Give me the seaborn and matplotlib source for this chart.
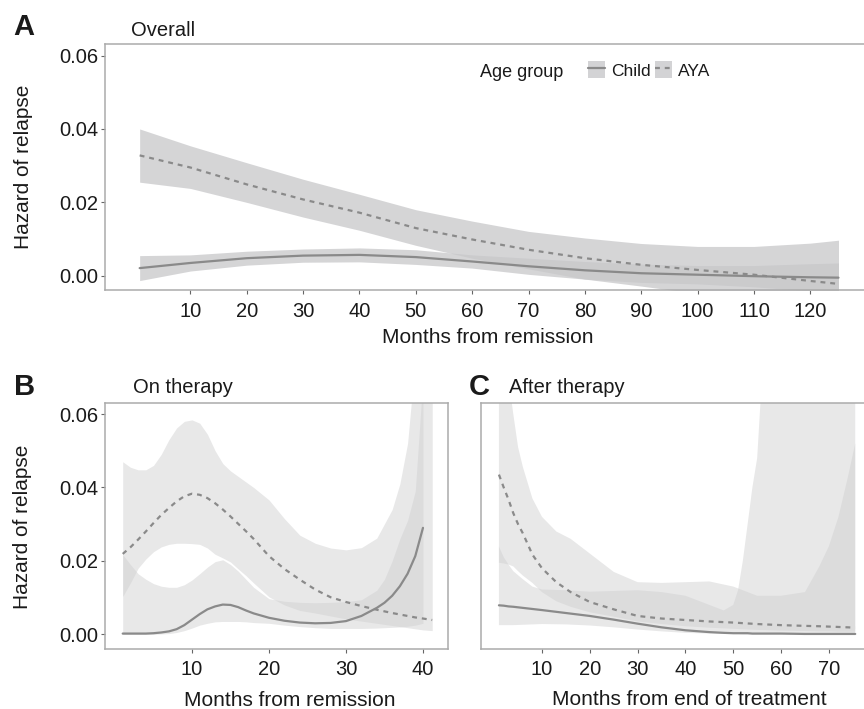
import numpy as np
import pandas as pd
import matplotlib
matplotlib.use("Agg")
import matplotlib.pyplot as plt
import seaborn as sns
from matplotlib.patches import Patch
from matplotlib.lines import Line2D
from matplotlib.legend_handler import HandlerTuple

# ---------------- data ----------------
# Panel A: Overall
a_month = [1, 10, 20, 30, 40, 50, 60, 70, 80, 90, 100, 110, 120, 125]
a_child_fit = [0.0021, 0.0035, 0.0048, 0.0055, 0.0057, 0.0051, 0.0039, 0.0026, 0.0015, 0.0007, 0.0003, -0.0001, -0.0004, -0.0005]
a_child_lo = [-0.0013, 0.0013, 0.0029, 0.0037, 0.0038, 0.0031, 0.0021, 0.0004, -0.0009, -0.0018, -0.0022, -0.0030, -0.0041, -0.0045]
a_child_hi = [0.0055, 0.0057, 0.0067, 0.0073, 0.0076, 0.0071, 0.0057, 0.0048, 0.0039, 0.0032, 0.0028, 0.0028, 0.0033, 0.0035]
a_aya_fit = [0.0328, 0.0295, 0.0249, 0.0208, 0.0172, 0.0130, 0.0099, 0.0071, 0.0048, 0.0030, 0.0016, 0.0003, -0.0014, -0.0022]
a_aya_lo = [0.0255, 0.0238, 0.0200, 0.0160, 0.0124, 0.0083, 0.0048, 0.0019, -0.0009, -0.0028, -0.0048, -0.0074, -0.0117, -0.0141]
a_aya_hi = [0.0400, 0.0354, 0.0308, 0.0263, 0.0222, 0.0180, 0.0149, 0.0121, 0.0103, 0.0088, 0.0080, 0.0080, 0.0089, 0.0097]

# Panel B: On therapy
b_aya_month = [1, 2, 3, 4, 5, 6, 7, 8, 9, 10, 11, 12, 13, 14, 15, 16, 17, 18, 20, 22, 24, 26, 28, 30, 32, 34, 36, 37, 38, 39, 40, 41.2]
b_aya_fit = [0.0219, 0.0237, 0.0258, 0.0280, 0.0303, 0.0325, 0.0344, 0.0362, 0.0376, 0.0383, 0.0380, 0.0371, 0.0357, 0.0340, 0.0321, 0.0301, 0.0281, 0.0260, 0.0213, 0.0178, 0.0149, 0.0122, 0.0101, 0.0088, 0.0077, 0.0067, 0.0058, 0.0054, 0.0050, 0.0046, 0.0043, 0.0039]
b_aya_lo = [0.0103, 0.0140, 0.0180, 0.0205, 0.0225, 0.0238, 0.0245, 0.0248, 0.0248, 0.0247, 0.0245, 0.0235, 0.0218, 0.0208, 0.0197, 0.0178, 0.0160, 0.0140, 0.0102, 0.0080, 0.0065, 0.0058, 0.0050, 0.0042, 0.0036, 0.0030, 0.0024, 0.0021, 0.0018, 0.0015, 0.0012, 0.0010]
b_aya_hi = [0.0470, 0.0455, 0.0448, 0.0448, 0.0460, 0.0490, 0.0530, 0.0562, 0.0580, 0.0584, 0.0575, 0.0545, 0.0500, 0.0465, 0.0445, 0.0430, 0.0415, 0.0400, 0.0366, 0.0315, 0.0270, 0.0248, 0.0235, 0.0230, 0.0236, 0.0262, 0.0340, 0.0410, 0.0520, 0.0750, 0.1200, 0.1500]

b_child_month = [1, 2, 3, 4, 5, 6, 7, 8, 9, 10, 11, 12, 13, 14, 15, 16, 17, 18, 20, 22, 24, 26, 28, 30, 32, 34, 35, 36, 37, 38, 39, 40]
b_child_fit = [0.0002, 0.0002, 0.0002, 0.0002, 0.0003, 0.0005, 0.0008, 0.0014, 0.0025, 0.0040, 0.0055, 0.0068, 0.0076, 0.0081, 0.0080, 0.0074, 0.0065, 0.0057, 0.0045, 0.0037, 0.0032, 0.0030, 0.0031, 0.0036, 0.0050, 0.0072, 0.0086, 0.0105, 0.0131, 0.0165, 0.0213, 0.0290]
b_child_lo = [0.0000, 0.0000, 0.0000, 0.0000, 0.0000, 0.0001, 0.0002, 0.0005, 0.0010, 0.0017, 0.0025, 0.0030, 0.0034, 0.0035, 0.0035, 0.0035, 0.0034, 0.0032, 0.0030, 0.0025, 0.0021, 0.0018, 0.0016, 0.0016, 0.0016, 0.0017, 0.0018, 0.0019, 0.0020, 0.0022, 0.0025, 0.0030]
b_child_hi = [0.0217, 0.0190, 0.0165, 0.0150, 0.0138, 0.0131, 0.0128, 0.0128, 0.0135, 0.0148, 0.0165, 0.0183, 0.0198, 0.0203, 0.0190, 0.0172, 0.0150, 0.0128, 0.0097, 0.0090, 0.0087, 0.0086, 0.0087, 0.0089, 0.0094, 0.0120, 0.0150, 0.0200, 0.0260, 0.0310, 0.0390, 0.0700]

# Panel C: After therapy
c_aya_month = [1, 2, 3, 4, 5, 6, 8, 10, 13, 16, 20, 25, 30, 35, 40, 45, 50, 55, 60, 65, 68, 70, 72, 74, 75.5]
c_aya_fit = [0.0435, 0.0400, 0.0367, 0.0330, 0.0300, 0.0275, 0.0217, 0.0180, 0.0142, 0.0115, 0.0088, 0.0068, 0.0050, 0.0043, 0.0039, 0.0035, 0.0032, 0.0028, 0.0025, 0.0023, 0.0022, 0.0021, 0.0020, 0.0019, 0.0018]
c_aya_lo = [0.0195, 0.0193, 0.0190, 0.0185, 0.0172, 0.0160, 0.0140, 0.0115, 0.0090, 0.0075, 0.0060, 0.0048, 0.0035, 0.0028, 0.0022, 0.0018, 0.0015, 0.0012, 0.0010, 0.0009, 0.0008, 0.0008, 0.0007, 0.0007, 0.0007]
c_aya_hi = [0.2000, 0.0900, 0.0700, 0.0600, 0.0510, 0.0456, 0.0370, 0.0320, 0.0280, 0.0260, 0.0220, 0.0170, 0.0142, 0.0140, 0.0142, 0.0144, 0.0130, 0.0105, 0.0105, 0.0115, 0.0185, 0.0240, 0.0320, 0.0430, 0.0520]

c_child_month = [1, 2, 3, 4, 6, 8, 10, 15, 20, 25, 30, 35, 40, 45, 48, 50, 51, 52, 53, 54, 55, 56, 58, 60, 65, 70, 75.5]
c_child_fit = [0.0079, 0.0078, 0.0076, 0.0075, 0.0072, 0.0069, 0.0066, 0.0058, 0.0050, 0.0040, 0.0029, 0.0019, 0.0011, 0.0006, 0.0004, 0.0003, 0.0003, 0.0003, 0.0003, 0.0002, 0.0002, 0.0002, 0.0002, 0.0002, 0.0001, 0.0001, 0.0001]
c_child_lo = [0.0025, 0.0025, 0.0025, 0.0025, 0.0026, 0.0027, 0.0028, 0.0027, 0.0024, 0.0019, 0.0013, 0.0008, 0.0004, 0.0002, 0.0001, 0.0001, 0.0001, 0.0000, 0.0000, 0.0000, 0.0000, 0.0000, 0.0000, 0.0000, 0.0000, 0.0000, 0.0000]
c_child_hi = [0.0239, 0.0210, 0.0190, 0.0172, 0.0150, 0.0130, 0.0122, 0.0120, 0.0116, 0.0118, 0.0120, 0.0115, 0.0105, 0.0080, 0.0065, 0.0080, 0.0120, 0.0200, 0.0300, 0.0400, 0.0480, 0.0700, 0.1200, 0.2000, 0.3000, 0.4000, 0.5000]

groups = ["Child", "AYA"]
y_ticks = [0.00, 0.02, 0.04, 0.06]
y_ticklabels = ["0.00", "0.02", "0.04", "0.06"]
a_xticks = [10, 20, 30, 40, 50, 60, 70, 80, 90, 100, 110, 120]
b_xticks = [10, 20, 30, 40]
c_xticks = [10, 20, 30, 40, 50, 60, 70]


def frame(child, aya):
    parts = []
    for g, (m, f, lo, hi) in zip(groups, [child, aya]):
        parts.append(pd.DataFrame({"month": m, "fit": f, "lo": lo, "hi": hi, "group": g}))
    return pd.concat(parts, ignore_index=True)


df_a = frame((a_month, a_child_fit, a_child_lo, a_child_hi), (a_month, a_aya_fit, a_aya_lo, a_aya_hi))
df_b = frame((b_child_month, b_child_fit, b_child_lo, b_child_hi), (b_aya_month, b_aya_fit, b_aya_lo, b_aya_hi))
df_c = frame((c_child_month, c_child_fit, c_child_lo, c_child_hi), (c_aya_month, c_aya_fit, c_aya_lo, c_aya_hi))

# ---------------- style ----------------
sns.set_theme(style="white")
plt.rcParams["font.family"] = ["Liberation Sans", "DejaVu Sans"]

LINE = "#8a8a8a"
SPINE = "#ababab"
TXT = "#1a1a1a"
DASH = (2.2, 2.2)

W, H = 864, 709
fig = plt.figure(figsize=(W / 100, H / 100), dpi=100)


def px_axes(left, top, right, bottom):
    return fig.add_axes([left / W, 1 - bottom / H, (right - left) / W, (bottom - top) / H])


def draw(ax, df, fill, alpha, xlim, xticks, show_y=True):
    for g in groups:
        sub = df[df["group"] == g]
        ax.fill_between(sub["month"], sub["lo"], sub["hi"], color=fill, alpha=alpha, lw=0, zorder=1)
    sns.lineplot(data=df, x="month", y="fit", style="group", style_order=groups,
                 dashes={"Child": "", "AYA": DASH}, color=LINE, lw=1.6,
                 estimator=None, sort=True, legend=False, ax=ax, zorder=3)
    ax.set_xlim(*xlim)
    ax.set_ylim(-0.004, 0.063)
    ax.set_xticks(xticks)
    ax.set_yticks(y_ticks)
    ax.set_yticklabels(y_ticklabels)
    ax.set_xlabel("")
    ax.set_ylabel("")
    for s in ax.spines.values():
        s.set_color(SPINE)
        s.set_linewidth(1.1)
        s.set_visible(True)
    ax.tick_params(axis="x", bottom=True, length=3, width=0.8, color="#666666", pad=5,
                   labelsize=14.5, labelcolor=TXT)
    ax.tick_params(axis="y", left=show_y, labelleft=show_y, length=3, width=0.8, color="#666666",
                   pad=2, labelsize=14.5, labelcolor=TXT)
    ax.set_facecolor("white")


ax_a = px_axes(105, 44.5, 874, 290.5)
draw(ax_a, df_a, "#c8c8ca", 0.76, (-5.15, 131.3), a_xticks)

ax_b = px_axes(105, 403, 448, 649)
draw(ax_b, df_b, "#cfcfd0", 0.48, (-1.3, 43.25), b_xticks)

ax_c = px_axes(481, 403, 871, 649)
draw(ax_c, df_c, "#cfcfd0", 0.48, (-2.75, 78.8), c_xticks, show_y=False)

# ---------------- texts ----------------
def ftext(x, y, s, **kw):
    kw.setdefault("color", TXT)
    fig.text(x / W, 1 - y / H, s, **kw)

ftext(13, 35, "A", fontsize=21, fontweight="bold", va="baseline")
ftext(131, 36, "Overall", fontsize=14.5, va="baseline")
ftext(14, 395, "B", fontsize=21, fontweight="bold", va="baseline")
ftext(133, 393, "On therapy", fontsize=14.5, va="baseline")
ftext(469, 395, "C", fontsize=21, fontweight="bold", va="baseline")
ftext(509, 393, "After therapy", fontsize=14.5, va="baseline")

ftext(23.5, 167, "Hazard of relapse", fontsize=15, rotation=90, ha="center", va="center")
ftext(23, 527, "Hazard of relapse", fontsize=15, rotation=90, ha="center", va="center")
ftext(488, 343, "Months from remission", fontsize=15, ha="center", va="baseline")
ftext(290, 706, "Months from remission", fontsize=15, ha="center", va="baseline")
ftext(689, 705, "Months from end of treatment", fontsize=15, ha="center", va="baseline")

# legend
ftext(480, 77, "Age group", fontsize=13, va="baseline")
key_fill = "#d3d3d5"
handles = [
    (Patch(facecolor=key_fill, edgecolor="none"), Line2D([], [], color=LINE, lw=1.6)),
    (Patch(facecolor=key_fill, edgecolor="none"), Line2D([], [], color=LINE, lw=1.6, dashes=DASH)),
]
fig.legend(handles, groups, handler_map={tuple: HandlerTuple(ndivide=1)}, ncol=2,
           loc="center left", bbox_to_anchor=(588 / W, 1 - 70 / H), frameon=False,
           fontsize=12.5, handlelength=1.0, handleheight=1.1, handletextpad=0.35,
           columnspacing=0.2, borderpad=0, borderaxespad=0, labelcolor=TXT)

fig.savefig("out.png", dpi=100, facecolor="white")
